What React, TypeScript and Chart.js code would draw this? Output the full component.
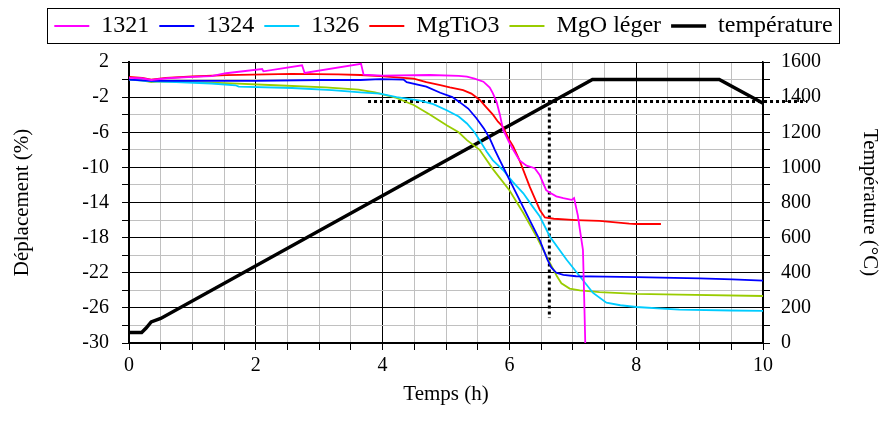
import React, { useEffect, useRef } from 'react';
import { Chart, registerables } from 'chart.js';

Chart.register(...registerables);

const FONT = "'Liberation Serif', 'Times New Roman', serif";

// ---- tick labels ----
const xTickLabels = [0, 2, 4, 6, 8, 10];
const leftTickLabels = [2, -2, -6, -10, -14, -18, -22, -26, -30];
const rightTickLabels = [0, 200, 400, 600, 800, 1000, 1200, 1400, 1600];

// ---- series names / colours ----
const seriesNames = ['1321', '1324', '1326', 'MgTiO3', 'MgO léger'];
const seriesColors = ['#ff00ff', '#0000ff', '#00ccff', '#ff0000', '#99cc00'];

// ---- 1321 ----
const h1321 = [0, 0.2, 0.35, 0.6, 1.0, 1.3, 1.53, 2.1, 2.12, 2.73, 2.77, 3.66, 3.7, 4.0, 4.75, 5.2, 5.33, 5.45, 5.59, 5.69, 5.74, 5.8, 5.85, 5.9, 6.0, 6.06, 6.16, 6.27, 6.4, 6.48, 6.58, 6.64, 6.74, 6.85, 6.98, 7.02, 7.08, 7.11, 7.16, 7.18, 7.2];
const v1321 = [0.2, 0.15, -0.05, 0.15, 0.3, 0.4, 0.72, 1.2, 0.94, 1.62, 0.75, 1.8, 0.55, 0.45, 0.52, 0.42, 0.33, 0.1, -0.24, -0.9, -1.57, -2.6, -4.0, -5.7, -7.2, -8.0, -9.2, -9.8, -10.1, -10.9, -12.6, -12.9, -13.3, -13.5, -13.7, -13.5, -15.5, -17.0, -19.4, -25, -31];

// ---- 1324 ----
const h1324 = [0, 0.35, 1.0, 2.0, 3.0, 3.65, 3.96, 4.33, 4.38, 4.69, 4.91, 5.1, 5.22, 5.35, 5.48, 5.6, 5.69, 5.77, 5.85, 6.0, 6.16, 6.32, 6.48, 6.6, 6.66, 6.74, 6.85, 7.05, 7.5, 8.0, 9.0, 9.52, 10.0];
const v1324 = [0.0, -0.15, -0.15, -0.15, -0.05, -0.05, 0.05, 0.0, -0.3, -0.8, -1.5, -2.0, -2.6, -3.3, -4.4, -5.6, -6.7, -8.0, -9.2, -11.4, -13.7, -16.0, -18.3, -20.5, -21.4, -22.0, -22.25, -22.4, -22.45, -22.5, -22.65, -22.75, -22.9];

// ---- 1326 ----
const h1326 = [0, 0.35, 0.74, 1.3, 1.68, 1.73, 2.57, 3.2, 3.65, 3.96, 4.22, 4.59, 4.8, 5.01, 5.2, 5.33, 5.45, 5.53, 5.64, 5.74, 5.9, 6.06, 6.22, 6.35, 6.48, 6.64, 6.9, 7.11, 7.32, 7.53, 7.75, 8.0, 8.68, 9.5, 10.0];
const v1326 = [0.0, -0.2, -0.28, -0.45, -0.65, -0.8, -0.96, -1.2, -1.45, -1.6, -2.0, -2.4, -2.8, -3.5, -4.2, -5.0, -6.0, -6.9, -8.2, -9.2, -10.3, -11.7, -12.95, -14.3, -15.6, -17.9, -20.5, -22.4, -24.3, -25.4, -25.7, -25.9, -26.2, -26.3, -26.35];

// ---- MgTiO3 ----
const hMgTiO3 = [0, 0.21, 0.35, 0.58, 1.0, 1.53, 2.57, 3.3, 3.65, 3.96, 4.33, 4.49, 4.69, 4.91, 5.06, 5.27, 5.4, 5.53, 5.64, 5.74, 5.82, 5.9, 6.0, 6.06, 6.16, 6.32, 6.48, 6.56, 6.7, 7.05, 7.42, 7.89, 8.0, 8.39];
const vMgTiO3 = [0.3, 0.2, 0.0, 0.2, 0.35, 0.5, 0.65, 0.6, 0.52, 0.4, 0.2, 0.1, -0.3, -0.62, -0.9, -1.2, -1.6, -2.3, -3.2, -4.0, -4.8, -5.4, -6.9, -7.6, -9.2, -12.2, -14.85, -15.7, -15.85, -16.0, -16.1, -16.4, -16.45, -16.45];

// ---- MgO léger ----
const hMgO = [0, 0.2, 0.35, 0.5, 1.0, 1.53, 2.31, 3.1, 3.62, 3.88, 4.22, 4.49, 4.75, 5.01, 5.2, 5.33, 5.53, 5.74, 6.0, 6.22, 6.43, 6.64, 6.75, 6.82, 6.95, 7.11, 7.42, 8.0, 8.68, 10.0];
const vMgO = [0.0, -0.1, -0.28, -0.2, -0.3, -0.4, -0.65, -0.88, -1.15, -1.45, -2.1, -2.9, -4.0, -5.2, -6.0, -6.9, -8.0, -10.2, -12.6, -15.2, -17.9, -20.9, -22.4, -23.2, -23.8, -24.0, -24.2, -24.4, -24.5, -24.65];

// ---- température (°C) ----
const hTemp = [0, 0.2, 0.27, 0.35, 0.5, 7.31, 9.31, 10.0];
const tTemp = [60, 60, 85, 120, 140, 1500, 1500, 1365];

// ---- dotted reference lines (°C axis) ----
const hRefHoriz = [3.77, 10.7];
const tRefHoriz = [1375, 1375];
const hRefVert = [6.63, 6.63];
const tRefVert = [1375, 142];

const zip = (xs: number[], ys: number[]) => xs.map((x, i) => ({ x, y: ys[i] }));
const near = (v: number, arr: number[]) => arr.some((a) => Math.abs(a - v) < 1e-6);

const legendBoxPlugin = {
  id: 'legendBox',
  beforeLayout(chart: any) {
    const lg = chart.legend;
    if (lg && !lg.__patched) {
      const orig = lg.fit;
      lg.fit = function () {
        orig.call(this);
        this.height = 58;
      };
      lg.__patched = true;
    }
  },
  afterDraw(chart: any) {
    const lg = chart.legend;
    if (!lg || !lg.legendHitBoxes || !lg.legendHitBoxes.length) return;
    const hb = lg.legendHitBoxes;
    const first = hb[0];
    const last = hb[hb.length - 1];
    const ctx = chart.ctx;
    ctx.save();
    ctx.strokeStyle = '#000';
    ctx.lineWidth = 1;
    const l = Math.round(first.left - 7) + 0.5;
    const r = Math.round(last.left + last.width + 6) + 0.5;
    const t = Math.round(first.top - 6) + 0.5;
    const b = Math.round(first.top + first.height + 5) + 0.5;
    ctx.strokeRect(l, t, r - l, b - t);
    ctx.restore();
  },
};

export default function App() {
  const ref = useRef<HTMLCanvasElement>(null);

  useEffect(() => {
    if (!ref.current) return;
    const lineDs = seriesNames.map((name, i) => {
      const xs = [h1321, h1324, h1326, hMgTiO3, hMgO][i];
      const ys = [v1321, v1324, v1326, vMgTiO3, vMgO][i];
      return {
        label: name,
        data: zip(xs, ys),
        borderColor: seriesColors[i],
        backgroundColor: seriesColors[i],
        borderWidth: 1.8,
        pointRadius: 0,
        tension: 0,
        yAxisID: 'y',
      };
    });
    const chart = new Chart(ref.current, {
      type: 'line',
      data: {
        datasets: [
          ...lineDs,
          {
            label: 'température',
            data: zip(hTemp, tTemp),
            borderColor: '#000',
            backgroundColor: '#000',
            borderWidth: 3.5,
            pointRadius: 0,
            tension: 0,
            yAxisID: 'y1',
          },
          {
            label: '',
            data: zip(hRefHoriz, tRefHoriz),
            borderColor: '#000',
            borderWidth: 3,
            borderDash: [3, 3],
            pointRadius: 0,
            yAxisID: 'y1',
            clip: false,
          },
          {
            label: '',
            data: zip(hRefVert, tRefVert),
            borderColor: '#000',
            borderWidth: 3,
            borderDash: [3, 3],
            pointRadius: 0,
            yAxisID: 'y1',
            clip: false,
          },
        ] as any,
      },
      options: {
        animation: false,
        responsive: false,
        layout: { padding: { top: 4, left: 0, right: 0, bottom: 0 } },
        plugins: {
          tooltip: { enabled: false },
          legend: {
            position: 'top',
            labels: {
              usePointStyle: true,
              pointStyle: 'line',
              pointStyleWidth: 35,
              padding: 10,
              color: '#000',
              font: { family: FONT, size: 24 },
              filter: (item: any) => item.text !== '',
            },
          },
        },
        scales: {
          x: {
            type: 'linear',
            min: 0,
            max: 10,
            afterFit: (s: any) => { s.height = 96; },
            ticks: {
              stepSize: 0.5,
              autoSkip: false,
              maxRotation: 0,
              padding: 4,
              color: '#000',
              font: { family: FONT, size: 20 },
              callback: (v: any) => (near(Number(v), xTickLabels) ? String(Number(v)) : ''),
            },
            grid: {
              color: (c: any) => (c.tick && near(c.tick.value, xTickLabels) ? '#000' : '#c0c0c0'),
              lineWidth: 1,
              tickColor: '#000',
              tickLength: 7,
            },
            border: { color: '#000', width: 2 },
            title: {
              display: true,
              text: 'Temps (h)',
              color: '#000',
              font: { family: FONT, size: 21 },
              padding: { top: 0, bottom: 32 },
            },
          },
          y: {
            type: 'linear',
            position: 'left',
            min: -30,
            max: 2,
            afterFit: (s: any) => { s.width = 129; },
            ticks: {
              stepSize: 2,
              autoSkip: false,
              padding: 13,
              color: '#000',
              font: { family: FONT, size: 20 },
              callback: (v: any) => (near(Number(v), leftTickLabels) ? String(Number(v)) : ''),
            },
            grid: {
              color: (c: any) => (c.tick && near(c.tick.value, leftTickLabels) ? '#000' : '#c0c0c0'),
              lineWidth: 1,
              tickColor: '#000',
              tickLength: 7,
            },
            border: { color: '#000', width: 2 },
            title: {
              display: true,
              text: 'Déplacement (%)',
              color: '#000',
              font: { family: FONT, size: 21 },
              padding: { top: 10, bottom: 0 },
            },
          },
          y1: {
            type: 'linear',
            position: 'right',
            min: 0,
            max: 1600,
            afterFit: (s: any) => { s.width = 124; },
            ticks: {
              stepSize: 100,
              autoSkip: false,
              padding: 11,
              color: '#000',
              font: { family: FONT, size: 20 },
              callback: (v: any) => (near(Number(v), rightTickLabels) ? String(Number(v)) : ''),
            },
            grid: {
              drawOnChartArea: false,
              tickColor: '#000',
              tickLength: 7,
            },
            border: { color: '#000', width: 1.5 },
            title: {
              display: true,
              text: 'Température (°C)',
              color: '#000',
              font: { family: FONT, size: 21 },
              padding: { top: 5, bottom: 0 },
            },
          },
        },
      } as any,
      plugins: [legendBoxPlugin],
    });
    return () => chart.destroy();
  }, []);

  return (
    <div style={{ position: 'absolute', left: 0, top: 0, width: 887, height: 439 }}>
      <canvas ref={ref} width={887} height={439} style={{ display: 'block' }} />
    </div>
  );
}
